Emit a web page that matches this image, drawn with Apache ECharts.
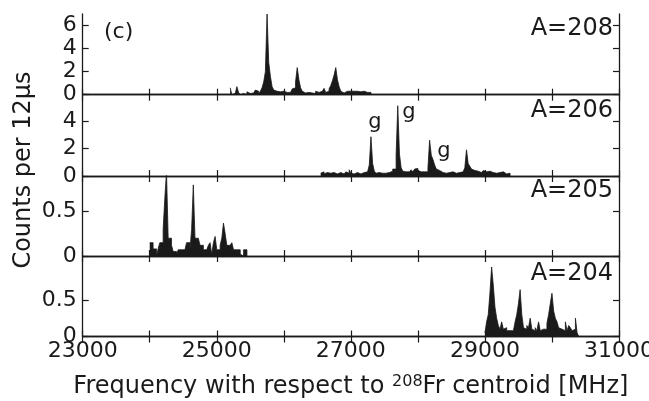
<!DOCTYPE html>
<html>
<head>
<meta charset="utf-8">
<script src="https://cdn.jsdelivr.net/npm/echarts@6/dist/echarts.min.js"></script>
<style>html,body{margin:0;padding:0;background:#fff;overflow:hidden;}#c{width:649px;height:401px;}</style>
</head>
<body>
<div id="c"></div>
<script>
// ---- data ----
const binWidth = 25; // MHz
const xTicks = [23000, 24000, 25000, 26000, 27000, 28000, 29000, 30000, 31000];
const xLabels = [23000, 25000, 27000, 29000, 31000];
const panelNames = ['A=208', 'A=206', 'A=205', 'A=204'];

const start208 = 25200;
const counts208 = [0.6,0,0.1,0.2,0.7,0.2,0,0.1,0.15,0,0.25,0.1,0,0.15,0.1,0.4,0.3,0.1,0.3,0.6,
  1.1,2.0,7.0,2.8,1.6,0.7,0.4,0.3,0.2,0.25,0.2,0.3,0.15,0.2,0.3,0.2,0.25,0.5,0.6,1.1,
  2.35,1.3,0.6,0.3,0.15,0.1,0.2,0.1,0.15,0.25,0.1,0.3,0.2,0.1,0.3,0.2,0.55,0.2,0.3,0.5,
  0.8,1.2,1.7,2.35,1.3,0.7,0.3,0.15,0.2,0.3,0.25,0.3,0.2,0.3,0.15,0.3,0.2,0.25,0.15,0.3,
  0.2,0.2,0.1,0.2];

const start206 = 26550;
const counts206 = [0.2,0.3,0.15,0.25,0.35,0.2,0.15,0.25,0.2,0.15,0.2,0.25,0.2,0.15,0.2,0.3,0.2,0.45,0.2,0.15,
  0.2,0.25,0.2,0.15,0.2,0.25,0.3,0.3,
  0.3,0.8,2.85,0.9,0.35,
  0.2,0.25,0.3,0.2,0.25,0.2,0.3,0.25,0.3,0.35,0.5,
  0.5,1.5,5.1,1.6,0.6,0.35,
  0.3,0.4,0.3,0.35,0.45,0.3,0.5,0.55,0.4,0.3,0.35,0.3,0.35,
  0.3,0.6,2.6,1.5,1.2,0.8,0.5,
  0.4,0.3,0.25,0.3,0.2,0.3,0.25,0.2,0.3,0.25,0.2,0.3,0.25,0.3,0.3,
  0.4,0.6,1.9,0.9,0.7,0.5,
  0.4,0.3,0.35,0.3,0.25,0.3,0.4,0.3,0.25,0.35,0.3,0.25,0.3,0.2,0.3,0.25,0.2,0.3,0.2,0.15,0.25,0.2];

const start205 = 24000;
const counts205 = [0.15,0.15,0.08,0.08,0,0.08,0.15,0.15,0.3,0.65,0.95,0.2,0.2,0.12,0.05,0.05,0.02,0.07,0.07,0.07,
  0.07,0.07,0.15,0.15,0.07,0.3,0.8,0.2,0.2,0.2,0.12,0.12,0.07,0.07,0.07,0.12,0.15,0.02,0.15,0.22,
  0.07,0.07,0.12,0.2,0.37,0.25,0.12,0.12,0.1,0.15,0.07,0.07,0.05,0.07,0.02,0,0.07,0.07];

const start204 = 29000;
const counts204 = [0.05,0.2,0.3,0.6,0.95,0.7,0.4,0.25,0.15,0.1,0.2,0.1,0.12,0.08,0.08,0.1,0.08,0.08,0.2,0.3,
  0.45,0.64,0.3,0.12,0.1,0.15,0.12,0.25,0.1,0.08,0.12,0.08,0.2,0.08,0.1,0.08,0.1,0.18,0.3,0.45,
  0.59,0.35,0.25,0.2,0.12,0.1,0.1,0.08,0.2,0.08,0.15,0.12,0.08,0.1,0.25,0.05];

const yMax = [7, 5.9, 0.9, 1.1];
const yTicks = [[0,2,4,6],[0,2,4],[0,0.5],[0,0.5]];

// ---- build ----
function hist(start, counts) {
  const d = counts.map((c, i) => [start + i * binWidth, c]);
  d.push([start + counts.length * binWidth, 0]);
  return d;
}
const panels = [hist(start208, counts208), hist(start206, counts206), hist(start205, counts205), hist(start204, counts204)];

const ink = '#1a1a1a';
const FS = 22;
const grids = [
  {left: 82.7, right: 30, top: 14, height: 80.7, outerBoundsMode: 'none', containLabel: false},
  {left: 82.7, right: 30, top: 94.7, height: 81.3, outerBoundsMode: 'none', containLabel: false},
  {left: 82.7, right: 30, top: 176, height: 80, outerBoundsMode: 'none', containLabel: false},
  {left: 82.7, right: 30, top: 256, height: 80.5, outerBoundsMode: 'none', containLabel: false}
];
const lineS = {show: true, lineStyle: {color: ink, width: 1.3}};
const xAxes = [], yAxes = [], series = [];
grids.forEach((g, k) => {
  const last = k === 3;
  xAxes.push({
    type: 'value', gridIndex: k, position: 'bottom', min: 23000, max: 31000, interval: 1000,
    axisLine: lineS, splitLine: {show: false},
    axisTick: {show: true, inside: true, length: 6, customValues: xTicks, lineStyle: {color: ink, width: 1.2}},
    axisLabel: {show: last, customValues: xLabels, color: ink, fontSize: FS, fontFamily: 'DejaVu Sans', margin: 4,
      formatter: v => String(v)},
    name: last ? 'Frequency with respect to {sup|208}Fr centroid [MHz]' : '',
    nameLocation: 'middle', nameGap: 37,
    nameTextStyle: {color: ink, fontSize: 24, fontFamily: 'DejaVu Sans',
      rich: {sup: {fontSize: 16, fontFamily: 'DejaVu Sans', color: ink, verticalAlign: 'top', padding: [0, 0, 10, 0]}}}
  });
  xAxes.push({
    type: 'value', gridIndex: k, position: 'top', min: 23000, max: 31000, interval: 1000,
    axisLine: lineS, splitLine: {show: false},
    axisTick: {show: true, inside: true, length: 6, customValues: xTicks, lineStyle: {color: ink, width: 1.2}},
    axisLabel: {show: false}
  });
  yAxes.push({
    type: 'value', gridIndex: k, position: 'left', min: 0, max: yMax[k],
    axisLine: lineS, splitLine: {show: false},
    axisTick: {show: true, inside: true, length: 6, customValues: yTicks[k], lineStyle: {color: ink, width: 1.2}},
    axisLabel: {show: true, customValues: yTicks[k], color: ink, fontSize: FS, fontFamily: 'DejaVu Sans', margin: 6,
      formatter: v => String(v)}
  });
  yAxes.push({
    type: 'value', gridIndex: k, position: 'right', min: 0, max: yMax[k],
    axisLine: lineS, splitLine: {show: false},
    axisTick: {show: true, inside: true, length: 6, customValues: yTicks[k], lineStyle: {color: ink, width: 1.2}},
    axisLabel: {show: false}
  });
  series.push({
    type: 'line', xAxisIndex: 2 * k, yAxisIndex: 2 * k, data: panels[k], step: 'end',
    symbol: 'none', clip: true, z: 1,
    lineStyle: {color: ink, width: 0.8}, areaStyle: {color: ink, opacity: 1}
  });
});

const txt = (x, y, s, align, fs, rot) => ({
  type: 'text', x: x, y: y, rotation: rot || 0, z: 100,
  style: {text: s, fill: ink, font: (fs || FS) + 'px "DejaVu Sans"', textAlign: align || 'left', textVerticalAlign: 'middle'}
});

const graphics = [
  txt(104, 32, '(c)', 'left', 22),
  txt(613, 29, panelNames[0], 'right', 24),
  txt(613, 111, panelNames[1], 'right', 24),
  txt(613, 191, panelNames[2], 'right', 24),
  txt(613, 274, panelNames[3], 'right', 24),
  txt(375, 123, 'g', 'center', 21),
  txt(409, 113, 'g', 'center', 21),
  txt(444, 152, 'g', 'center', 21),
  txt(24, 170, 'Counts per 12μs', 'center', 24, Math.PI / 2)
];

const chart = echarts.init(document.getElementById('c'), null, {renderer: 'canvas'});
chart.setOption({
  animation: false,
  backgroundColor: '#fff',
  grid: grids,
  xAxis: xAxes,
  yAxis: yAxes,
  series: series,
  graphic: graphics
});
</script>
</body>
</html>
